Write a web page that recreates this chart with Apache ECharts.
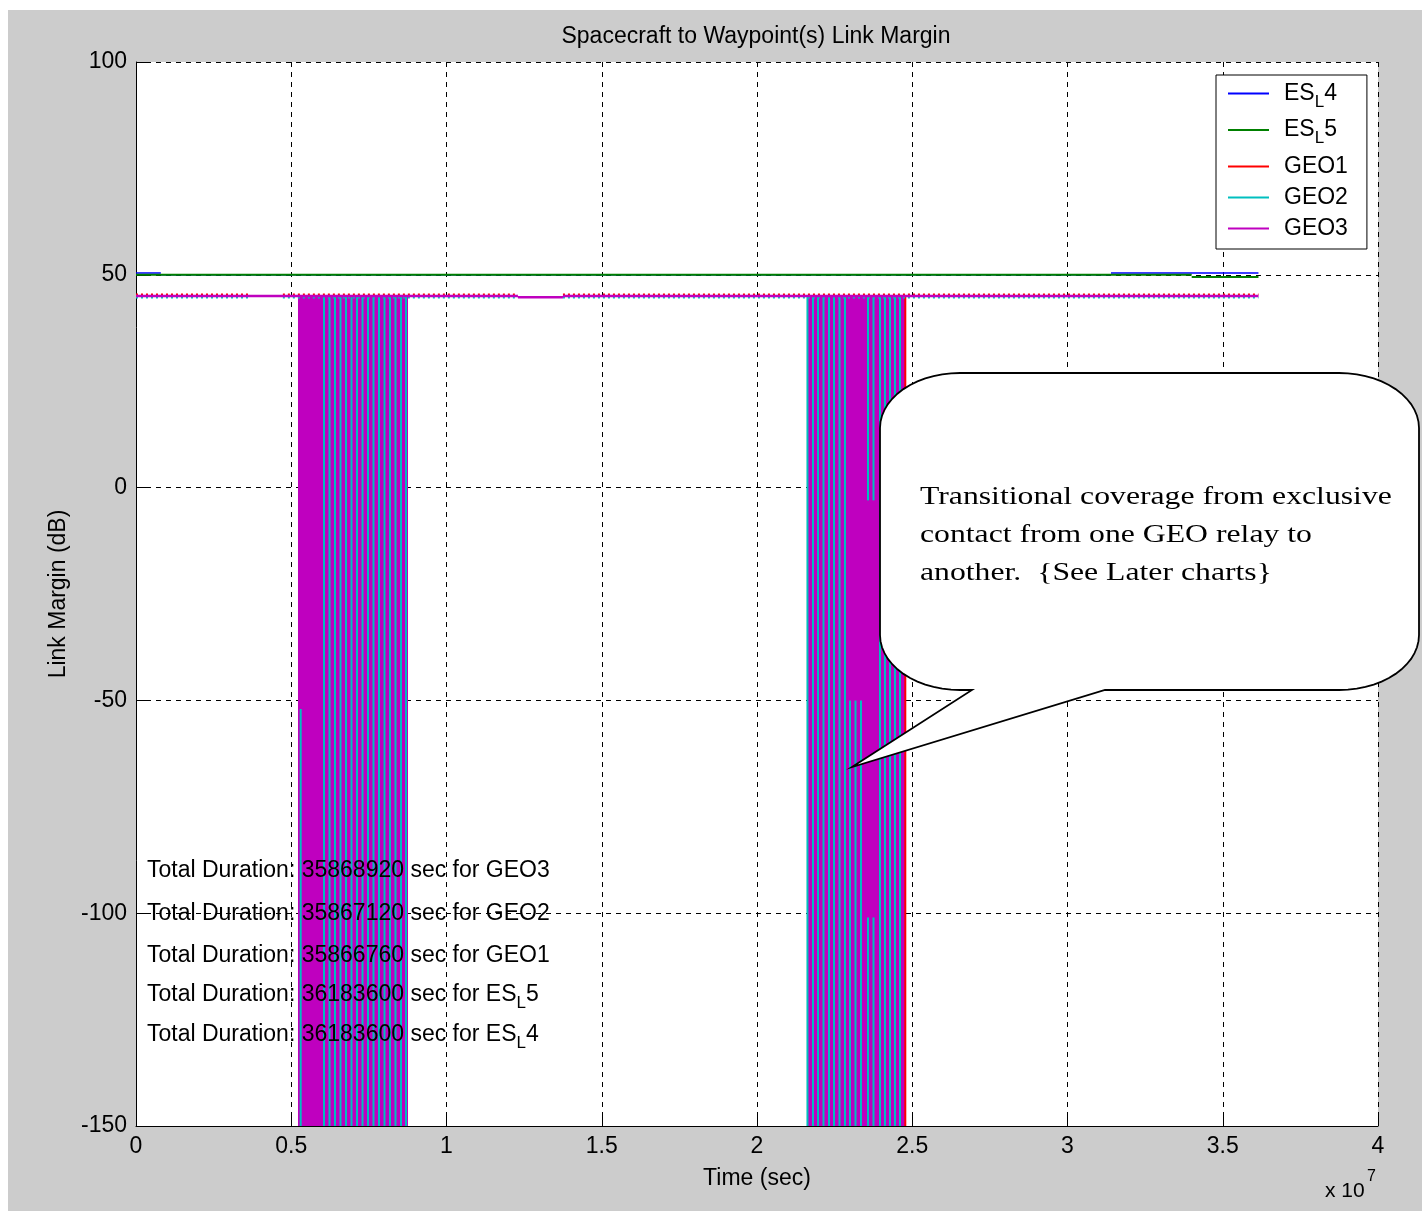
<!DOCTYPE html>
<html>
<head>
<meta charset="utf-8">
<title>Spacecraft to Waypoint(s) Link Margin</title>
<script src="https://cdn.jsdelivr.net/npm/echarts@6/dist/echarts.min.js"></script>
<style>
  html, body { margin: 0; padding: 0; background: #ffffff; }
  #chart { position: absolute; left: 8px; top: 10px; width: 1414px; height: 1201px; }
</style>
</head>
<body>
<div id="chart"></div>
<script>
// ---- data (time in sec, margin in dB) ----
// '-' splits a trace into separate flat stretches (tiny steps would otherwise be smoothed away)
var xTickLabels = ['0', '0.5', '1', '1.5', '2', '2.5', '3', '3.5', '4'];

var esL4 = [[0, 50.4], [0.08e7, 50.4], [0.08e7, '-'], [0.08e7, 50], [3.14e7, 50], [3.14e7, '-'],
            [3.14e7, 50.45], [3.615e7, 50.45]];
var esL5 = [[0, 50], [3.40e7, 50], [3.40e7, '-'], [3.40e7, 49.5], [3.615e7, 49.5]];

var geo1Level = [[0, 45.35], [0.367e7, 45.35], [0.367e7, '-'], [0.473e7, 45.35],
                 [1.23e7, 45.35], [1.23e7, '-'], [1.375e7, 45.35], [3.615e7, 45.35]];
var geo2Level = [[0, 44.65], [0.367e7, 44.65], [0.367e7, '-'], [0.473e7, 44.65],
                 [1.23e7, 44.65], [1.23e7, '-'], [1.375e7, 44.65], [3.615e7, 44.65]];
var geo3Level = [[0, 45], [1.23e7, 45], [1.23e7, '-'], [1.23e7, 44.7], [1.375e7, 44.7], [1.375e7, '-'],
                 [1.375e7, 45], [3.615e7, 45]];

// out-of-view periods: [start, end, top, bottom]
var geo3Spans = [[5.217e6, 8.76e6, 45, -150], [2.163e7, 2.479e7, 45, -150]];
// single drop-outs: [time, top, bottom]
var geo2Drops = [
  [5.304e6, -52, -150],
  [6.055e6, 45, -150], [6.232e6, 45, -150], [6.409e6, 45, -150], [6.586e6, 45, -150],
  [6.763e6, 45, -150], [6.940e6, 45, -150], [7.118e6, 45, -150], [7.295e6, 45, -150],
  [7.472e6, 45, -150], [7.649e6, 45, -150], [7.826e6, 45, -150], [8.003e6, 45, -150],
  [8.180e6, 45, -150], [8.357e6, 45, -150], [8.535e6, 45, -150], [8.696e6, 45, -150],
  [2.1625e7, 45, -150], [2.1803e7, 45, -150], [2.1965e7, 45, -150], [2.2142e7, 45, -150],
  [2.2319e7, 45, -150], [2.2480e7, 45, -150], [2.2657e7, 45, -150], [2.2834e7, 45, -150],
  [2.2995e7, -50, -150], [2.3172e7, -50, -150], [2.3349e7, -50, -150],
  [2.3575e7, 45, -3], [2.3752e7, 45, -3], [2.3575e7, -101, -150], [2.3752e7, -101, -150],
  [2.3961e7, 45, -150], [2.4122e7, 45, -150], [2.4283e7, 45, -150], [2.4444e7, 45, -150],
  [2.4605e7, 45, -150]
];
var geo1Drops = [[2.4776e7, 45, -150]];

var durNames = ['GEO3', 'GEO2', 'GEO1', 'ES_L5', 'ES_L4'];
var durSecs = [35868920, 35867120, 35866760, 36183600, 36183600];

// ---- styling ----
var FONT = '"Liberation Sans", Arial, Helvetica, sans-serif';
var SERIF = '"Liberation Serif", "Times New Roman", serif';
var C = { es4: '#0000ff', es5: '#008000', geo1: '#ff0000', geo2: '#00bfbf', geo3: '#bf00bf' };
var OX = 8, OY = 10;   // chart div offset on the page
function px(x, y) { return [x - OX, y - OY]; }

var subRich = {
  n: { fontSize: 23, fontFamily: FONT, color: '#000', lineHeight: 34, verticalAlign: 'middle' },
  s: { fontSize: 17, fontFamily: FONT, color: '#000', lineHeight: 12, verticalAlign: 'bottom' },
  g: { fontSize: 23, fontFamily: FONT, color: '#000', lineHeight: 31, verticalAlign: 'middle' }
};
function richName(name) {
  if (name.indexOf('ES_L') === 0) return '{n|ES}{s|L}{n|' + name.slice(4) + '}';
  return '{g|' + name + '}';
}
function richDuration(i) {
  var name = durNames[i];
  var head = 'Total Duration: ' + durSecs[i] + ' sec for ';
  if (name.indexOf('ES_L') === 0) return '{n|' + head + 'ES}{s|L}{n|' + name.slice(4) + '}';
  return '{n|' + head + name + '}';
}

function spanRender(color) {
  return function (params, api) {
    var p0 = api.coord([api.value(0), api.value(2)]);
    var p1 = api.coord([api.value(1), api.value(3)]);
    return { type: 'rect', shape: { x: p0[0], y: p0[1], width: p1[0] - p0[0], height: p1[1] - p0[1] },
             style: { fill: color } };
  };
}
function dropRender(color) {
  return function (params, api) {
    var p0 = api.coord([api.value(0), api.value(1)]);
    var p1 = api.coord([api.value(0), api.value(2)]);
    return { type: 'line', shape: { x1: p0[0], y1: p0[1], x2: p1[0], y2: p1[1] },
             style: { stroke: color, lineWidth: 2 } };
  };
}

function bubblePoints() {
  var L = 880, R = 1419, T = 373, B = 690, rx = 80, ry = 55, pts = [];
  function arc(cx, cy, a0, a1) {
    for (var i = 0; i <= 14; i++) {
      var a = a0 + (a1 - a0) * i / 14;
      pts.push(px(cx + rx * Math.cos(a), cy + ry * Math.sin(a)));
    }
  }
  arc(R - rx, T + ry, -Math.PI / 2, 0);
  arc(R - rx, B - ry, 0, Math.PI / 2);
  pts.push(px(1105, B), px(852, 767), px(972, B));
  arc(L + rx, B - ry, Math.PI / 2, Math.PI);
  arc(L + rx, T + ry, Math.PI, 1.5 * Math.PI);
  return pts;
}

var chart = echarts.init(document.getElementById('chart'));

var graphics = [
  { type: 'text', x: px(756, 37)[0], y: px(756, 37)[1], z: 100,
    style: { text: 'Spacecraft to Waypoint(s) Link Margin', font: '23px ' + FONT, fill: '#000',
             align: 'center', verticalAlign: 'middle' } },
  { type: 'text', x: px(1325, 1191)[0], y: px(1325, 1191)[1], z: 100,
    style: { text: 'x 10', font: '21px ' + FONT, fill: '#000', align: 'left', verticalAlign: 'middle' } },
  { type: 'text', x: px(1367, 1177)[0], y: px(1367, 1177)[1], z: 100,
    style: { text: '7', font: '16px ' + FONT, fill: '#000', align: 'left', verticalAlign: 'middle' } },
  { type: 'polygon', z: 50, shape: { points: bubblePoints() },
    style: { fill: '#ffffff', stroke: '#000', lineWidth: 1.8 } },
  { type: 'text', x: px(920, 535)[0], y: px(920, 535)[1], z: 51, scaleX: 1.22, scaleY: 1,
    style: { text: 'Transitional coverage from exclusive\ncontact from one GEO relay to\nanother.  {See Later charts}',
             font: '26px ' + SERIF, fill: '#000', lineHeight: 38, align: 'left', verticalAlign: 'middle' } }
];
var durTop = [870, 913, 955, 994, 1034];
for (var i = 0; i < durNames.length; i++) {
  graphics.push({ type: 'text', x: px(147, durTop[i])[0], y: px(147, durTop[i])[1] + 1, z: 20,
    style: { text: richDuration(i), rich: subRich, align: 'left', verticalAlign: 'middle' } });
}

function lineSeries(name, data, color, width, dash, z) {
  return { name: name, type: 'line', data: data, color: color, showSymbol: false, symbol: 'none',
           silent: true, z: z, connectNulls: false,
           lineStyle: { color: color, width: width, type: dash || 'solid' } };
}

var option = {
  backgroundColor: '#cccccc',
  animation: false,
  grid: { left: 128, top: 52, right: 44, bottom: 85, containLabel: false, outerBoundsMode: 'none',
          show: true, backgroundColor: '#ffffff', borderWidth: 0 },
  legend: {
    data: ['ES_L4', 'ES_L5', 'GEO1', 'GEO2', 'GEO3'],
    orient: 'vertical', left: 1216 - OX, top: 75 - OY, icon: 'rect',
    itemWidth: 41, itemHeight: 2, itemGap: 8, padding: [7, 19, 9, 12],
    backgroundColor: '#ffffff', borderColor: '#000', borderWidth: 1, borderRadius: 0,
    selectedMode: false, z: 40,
    formatter: richName,
    textStyle: { fontSize: 23, fontFamily: FONT, color: '#000', padding: [0, 0, 0, 10], rich: subRich }
  },
  xAxis: {
    type: 'value', min: 0, max: 4e7, interval: 0.5e7,
    name: 'Time (sec)', nameLocation: 'middle', nameGap: 41,
    nameTextStyle: { fontSize: 23, fontFamily: FONT, color: '#000' },
    axisLine: { show: true, onZero: false, lineStyle: { color: '#000', width: 1 } },
    axisTick: { show: true, inside: true, length: 12, lineStyle: { color: '#000' } },
    axisLabel: { margin: 9, fontSize: 23, fontFamily: FONT, color: '#000',
                 formatter: function (v) { return xTickLabels[Math.round(v / 0.5e7)]; } },
    splitLine: { show: true, lineStyle: { color: '#000', width: 1, type: [5, 5] } }
  },
  yAxis: {
    type: 'value', min: -150, max: 100, interval: 50,
    name: 'Link Margin (dB)', nameLocation: 'middle', nameGap: 66,
    nameTextStyle: { fontSize: 23, fontFamily: FONT, color: '#000' },
    axisLine: { show: true, onZero: false, lineStyle: { color: '#000', width: 1 } },
    axisTick: { show: true, inside: true, length: 12, lineStyle: { color: '#000' } },
    axisLabel: { margin: 9, fontSize: 23, fontFamily: FONT, color: '#000' },
    splitLine: { show: true, lineStyle: { color: '#000', width: 1, type: [5, 5] } }
  },
  tooltip: { show: false },
  graphic: { elements: graphics },
  series: [
    lineSeries('ES_L4', esL4, C.es4, 1.5, null, 4),
    lineSeries('ES_L5', esL5, C.es5, 2, null, 5),
    lineSeries('GEO1', geo1Level, C.geo1, 2, [2, 3], 6),
    lineSeries('GEO2', geo2Level, C.geo2, 2, [2, 3], 6),
    lineSeries('GEO3', geo3Level, C.geo3, 2.5, null, 7),
    { name: 'GEO3', type: 'custom', data: geo3Spans, renderItem: spanRender(C.geo3), clip: true,
      encode: { x: [0, 1], y: [2, 3] }, silent: true, z: 2 },
    { name: 'GEO2', type: 'custom', data: geo2Drops, renderItem: dropRender(C.geo2), clip: true,
      encode: { x: 0, y: [1, 2] }, silent: true, z: 3 },
    { name: 'GEO1', type: 'custom', data: geo1Drops, renderItem: dropRender(C.geo1), clip: true,
      encode: { x: 0, y: [1, 2] }, silent: true, z: 3 }
  ]
};
chart.setOption(option);
</script>
</body>
</html>
